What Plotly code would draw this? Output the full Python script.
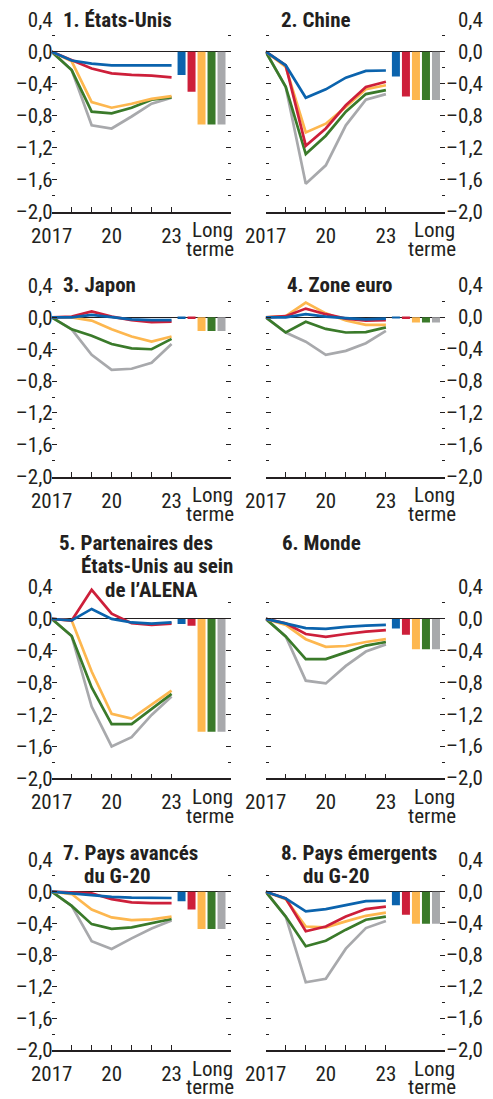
import plotly.graph_objects as go

# ---- data -----------------------------------------------------------------
YEARS = [2017, 2018, 2019, 2020, 2021, 2022, 2023]
YEAR_LABELS = ["2017", "", "", "20", "", "", "23"]
Y_TICKS = [0.4, 0.0, -0.4, -0.8, -1.2, -1.6, -2.0]
Y_TICK_LABELS = ["0,4", "0,0", "–0,4", "–0,8", "–1,2", "–1,6", "–2,0"]
LONG_RUN_WORDS = ["Long", "terme"]

# series order in each panel: blue, red, yellow, green, grey
ETATS_UNIS = [
    [0, -0.11, -0.15, -0.17, -0.17, -0.17, -0.17],
    [0, -0.11, -0.21, -0.27, -0.29, -0.30, -0.32],
    [0, -0.12, -0.63, -0.70, -0.65, -0.59, -0.555],
    [0, -0.23, -0.75, -0.77, -0.70, -0.60, -0.57],
    [0, -0.23, -0.92, -0.96, -0.81, -0.65, -0.575],
]
ETATS_UNIS_LT = [-0.29, -0.50, -0.91, -0.91, -0.91]

CHINE = [
    [0, -0.17, -0.575, -0.47, -0.325, -0.24, -0.235],
    [0, -0.17, -1.175, -0.96, -0.67, -0.44, -0.375],
    [0, -0.19, -1.01, -0.90, -0.69, -0.47, -0.42],
    [0, -0.44, -1.28, -1.05, -0.75, -0.53, -0.48],
    [0, -0.44, -1.65, -1.42, -0.92, -0.60, -0.53],
]
CHINE_LT = [-0.31, -0.56, -0.605, -0.605, -0.605]

JAPON = [
    [0, 0.0, 0.03, 0.0, -0.025, -0.035, -0.035],
    [0, 0.01, 0.075, 0.01, -0.035, -0.06, -0.055],
    [0, 0.0, -0.04, -0.15, -0.24, -0.305, -0.24],
    [0, -0.15, -0.23, -0.335, -0.39, -0.40, -0.27],
    [0, -0.15, -0.47, -0.66, -0.645, -0.57, -0.335],
]
JAPON_LT = [-0.02, -0.02, -0.17, -0.17, -0.17]

ZONE_EURO = [
    [0, 0.0, 0.04, 0.01, -0.01, -0.025, -0.015],
    [0, 0.015, 0.11, 0.04, -0.015, -0.04, -0.035],
    [0, 0.015, 0.185, 0.05, -0.04, -0.095, -0.095],
    [0, -0.19, -0.055, -0.145, -0.19, -0.185, -0.125],
    [0, -0.19, -0.305, -0.47, -0.42, -0.325, -0.17],
]
ZONE_EURO_LT = [-0.005, -0.02, -0.065, -0.065, -0.065]

ALENA = [
    [0, -0.02, 0.125, 0.0, -0.045, -0.06, -0.045],
    [0, -0.02, 0.365, 0.065, -0.055, -0.075, -0.06],
    [0, -0.02, -0.66, -1.19, -1.25, -1.08, -0.90],
    [0, -0.215, -0.86, -1.32, -1.32, -1.135, -0.94],
    [0, -0.215, -1.10, -1.60, -1.485, -1.205, -0.975],
]
ALENA_LT = [-0.065, -0.085, -1.415, -1.415, -1.415]

MONDE = [
    [0, -0.055, -0.115, -0.125, -0.10, -0.085, -0.075],
    [0, -0.055, -0.19, -0.225, -0.19, -0.16, -0.14],
    [0, -0.075, -0.255, -0.35, -0.34, -0.29, -0.255],
    [0, -0.22, -0.505, -0.505, -0.42, -0.335, -0.29],
    [0, -0.22, -0.775, -0.81, -0.59, -0.41, -0.32],
]
MONDE_LT = [-0.12, -0.20, -0.38, -0.38, -0.38]

AVANCES = [
    [0, -0.02, -0.04, -0.065, -0.075, -0.08, -0.08],
    [0, -0.013, -0.02, -0.095, -0.135, -0.145, -0.145],
    [0, -0.03, -0.225, -0.325, -0.36, -0.35, -0.315],
    [0, -0.18, -0.41, -0.47, -0.45, -0.40, -0.345],
    [0, -0.18, -0.625, -0.725, -0.59, -0.465, -0.365],
]
AVANCES_LT = [-0.12, -0.225, -0.47, -0.47, -0.47]

EMERGENTS = [
    [0, -0.085, -0.25, -0.22, -0.17, -0.12, -0.115],
    [0, -0.085, -0.50, -0.44, -0.315, -0.22, -0.19],
    [0, -0.095, -0.44, -0.45, -0.375, -0.305, -0.265],
    [0, -0.315, -0.69, -0.62, -0.48, -0.355, -0.315],
    [0, -0.315, -1.145, -1.10, -0.72, -0.46, -0.37],
]
EMERGENTS_LT = [-0.17, -0.29, -0.405, -0.405, -0.405]

PANELS = [
    (["1. États-Unis"], ETATS_UNIS, ETATS_UNIS_LT),
    (["2. Chine"], CHINE, CHINE_LT),
    (["3. Japon"], JAPON, JAPON_LT),
    (["4. Zone euro"], ZONE_EURO, ZONE_EURO_LT),
    (["5. Partenaires des", "États-Unis au sein", "de l’ALENA"], ALENA, ALENA_LT),
    (["6. Monde"], MONDE, MONDE_LT),
    (["7. Pays avancés", "du G-20"], AVANCES, AVANCES_LT),
    (["8. Pays émergents", "du G-20"], EMERGENTS, EMERGENTS_LT),
]

# ---- styling ----------------------------------------------------------------
W, H = 493, 1099
FONT = "Liberation Sans Narrow, Arial Narrow, Roboto Condensed, DejaVu Sans Condensed, sans-serif"
INK = "#231f20"
COLORS = ["#0b63ad", "#cd1f3a", "#fdb74f", "#3a7a2a", "#a8a9ac"]
SERIES_NAMES = ["bleu", "rouge", "jaune", "vert", "gris"]
FS = 21

COL_X = [(51.7, 230.5), (265.7, 445.0)]          # plot area, px from left
ROW_Y = [(19.7, 211.7), (285.5, 476.7), (587.0, 778.3), (860.0, 1050.0)]  # px from top
X_RANGE = [2017, 2025.95]
Y_RANGE = [-2.0, 0.4]
LT_OFFSETS = [0.5, 1.0, 1.5, 2.0, 2.5]
BAR_W = 0.4

# title placement (left x px, centre y px) for each line
TITLE_POS = [
    [(62, 20)],
    [(280, 20)],
    [(62, 285)],
    [(285.7, 285)],
    [(58, 542.5), (80, 565.5), (104, 589.5)],
    [(281, 542.5)],
    [(62, 853), (83, 875.5)],
    [(280, 853), (302, 875.5)],
]
LONG_RUN_X = [(212, 210), (434, 431.5)]
LONG_RUN_DY = [18.6, 37.4]   # px below the axis line
RIGHT_LABEL_X = 485


def px(x):
    return x / W


def py(y):
    return 1 - y / H


fig = go.Figure()
layout = dict(
    width=W, height=H,
    margin=dict(l=0, r=0, t=0, b=0, pad=0, autoexpand=False),
    paper_bgcolor="white", plot_bgcolor="white",
    showlegend=False,
    font=dict(family=FONT, size=FS, color=INK),
)
annotations = []

for i, (title_lines, series, long_run) in enumerate(PANELS):
    n = i + 1
    row, col = divmod(i, 2)
    xa = "x" if n == 1 else f"x{n}"
    ya = "y" if n == 1 else f"y{n}"
    xkey = "xaxis" if n == 1 else f"xaxis{n}"
    ykey = "yaxis" if n == 1 else f"yaxis{n}"
    x0, x1 = COL_X[col]
    top, bottom = ROW_Y[row]

    fig.add_trace(go.Bar(
        x=[YEARS[-1] + o for o in LT_OFFSETS], y=long_run, width=BAR_W,
        marker=dict(color=COLORS, line=dict(width=0)),
        xaxis=xa, yaxis=ya, hoverinfo="skip",
    ))
    for k in reversed(range(len(series))):
        fig.add_trace(go.Scatter(
            x=YEARS, y=series[k], mode="lines", name=SERIES_NAMES[k],
            line=dict(color=COLORS[k], width=2.7),
            xaxis=xa, yaxis=ya,
        ))

    layout[xkey] = dict(
        domain=[px(x0), px(x1)], range=X_RANGE, anchor=ya, automargin=False,
        tickmode="array", tickvals=YEARS, ticktext=YEAR_LABELS,
        ticks="inside", ticklen=5, tickwidth=1, tickcolor=INK,
        ticklabelstandoff=4,
        showline=True, linecolor=INK, linewidth=1.5,
        showgrid=False, zeroline=False, fixedrange=True,
        tickfont=dict(size=FS, color=INK),
    )
    layout[ykey] = dict(
        domain=[py(bottom), py(top)], range=Y_RANGE, anchor=xa, automargin=False,
        tickmode="array", tickvals=Y_TICKS, ticktext=Y_TICK_LABELS,
        showticklabels=(col == 0), ticklabelstandoff=-2,
        ticks="inside", ticklen=5, tickwidth=1, tickcolor=INK, mirror="ticks",
        minor=dict(tickmode="linear", tick0=0, dtick=0.2, ticks="inside",
                   ticklen=3, tickwidth=1, tickcolor=INK),
        showline=False, showgrid=False,
        zeroline=True, zerolinecolor=INK, zerolinewidth=1,
        fixedrange=True, tickfont=dict(size=FS, color=INK),
    )

    # right-hand value labels for the right column, right aligned
    if col == 1:
        for v, t in zip(Y_TICKS, Y_TICK_LABELS):
            annotations.append(dict(
                x=px(RIGHT_LABEL_X), xref="paper", y=v, yref=ya,
                text=t, showarrow=False, xanchor="right", yanchor="middle",
                font=dict(size=FS, color=INK),
            ))

    # long-run category label
    for j, word in enumerate(LONG_RUN_WORDS):
        annotations.append(dict(
            x=px(LONG_RUN_X[col][j]), xref="paper",
            y=py(bottom + LONG_RUN_DY[j]), yref="paper",
            text=word, showarrow=False, xanchor="center", yanchor="middle",
            font=dict(size=FS, color=INK), borderpad=0,
        ))

    # panel title
    for line, (tx, ty) in zip(title_lines, TITLE_POS[i]):
        annotations.append(dict(
            x=px(tx), xref="paper", y=py(ty), yref="paper",
            text=f"<b>{line}</b>", showarrow=False,
            xanchor="left", yanchor="middle",
            font=dict(size=FS, color=INK), borderpad=0,
        ))

layout["annotations"] = annotations
fig.update_layout(**layout)
fig.write_html("out.html")
